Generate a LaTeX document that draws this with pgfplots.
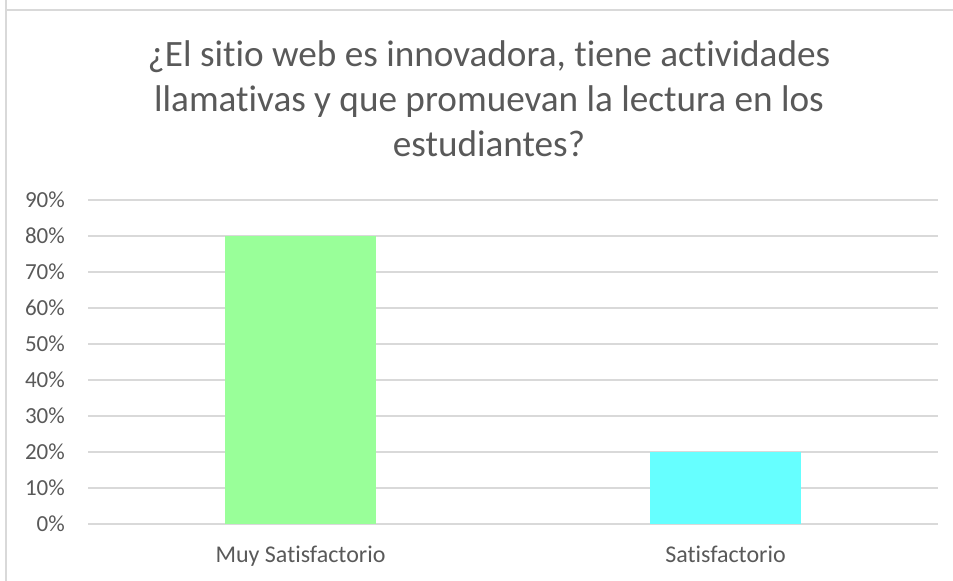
\documentclass[border=0pt]{standalone}
\usepackage{pgfplots}
\pgfplotsset{compat=1.18}
\usepackage{fontspec}
\setmainfont{Carlito}[RawFeature={-liga;-clig;-dlig;-calt}]
\definecolor{txt}{HTML}{595959}
\definecolor{grd}{HTML}{D9D9D9}
\definecolor{bgreen}{HTML}{99FF99}
\definecolor{bcyan}{HTML}{66FFFF}
\begin{document}
\begin{tikzpicture}[x=1bp,y=1bp]
\path[use as bounding box] (0,0) rectangle (953,581);
\draw[grd, line width=1.5bp] (6,590) -- (6,571) -- (953,571);
\draw[grd, line width=1.5bp] (6,0) -- (6,571);
\begin{scope}[every node/.style={text=txt, font=\fontsize{37.2bp}{45bp}\selectfont, anchor=base}]
\node at (489,514) {¿El sitio web es innovadora, tiene actividades};
\node at (489,469) {llamativas y que promuevan la lectura en los};
\node at (489,424) {estudiantes?};
\end{scope}
\begin{axis}[
  at={(88bp,57bp)}, anchor=south west,
  scale only axis, width=850bp, height=324bp,
  xmin=-0.5, xmax=1.5, ymin=0, ymax=90,
  axis line style={draw=none},
  ymajorgrids, grid style={grd, line width=1.2bp},
  ytick={0,10,...,90},
  yticklabel={\pgfmathprintnumber{\tick}\%},
  xtick={0,1}, xticklabels={Muy Satisfactorio, Satisfactorio},
  major tick length=0pt,
  tick style={draw=none},
  ticklabel style={text=txt, inner sep=0pt},
  yticklabel style={anchor=east, xshift=-23bp, font=\fontsize{23bp}{27bp}\selectfont},
  xticklabel style={anchor=base, yshift=-39bp, font=\fontsize{24bp}{28bp}\selectfont},
  /pgf/number format/assume math mode=true,
  clip=false,
  ybar, bar width=151bp,
]
\addplot[fill=bgreen, draw=none, bar shift=0pt] coordinates {(0,80)};
\addplot[fill=bcyan, draw=none, bar shift=0pt] coordinates {(1,20)};
\end{axis}
\end{tikzpicture}
\end{document}
